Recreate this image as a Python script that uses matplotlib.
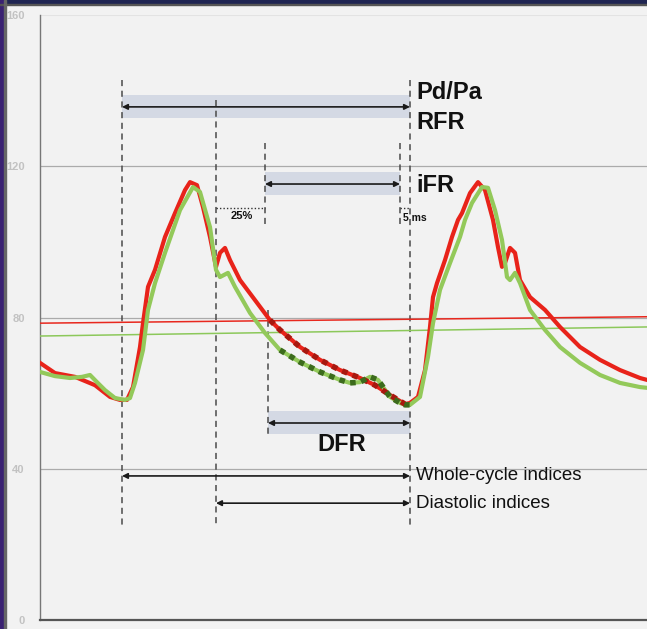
import numpy as np
import matplotlib
matplotlib.use("Agg")
from matplotlib import pyplot as plt
from matplotlib.patches import Rectangle

plt.rcParams['font.family'] = ['Liberation Sans', 'DejaVu Sans']

# Pressure traces (x = sample index, y = mmHg)
t_pa = [0, 15, 35, 55, 70, 80, 87, 93, 100, 103, 108, 115, 125, 135, 145, 150, 157, 163,
        170, 176, 180, 185, 190, 200, 215, 230, 240, 260, 280, 300, 320, 335, 350, 365,
        370, 378, 385, 390, 393, 397, 405, 412, 418, 422, 430, 438, 445, 453, 458, 462,
        465, 470, 475, 480, 490, 505, 520, 540, 560, 580, 600, 607]
pa = [68.0, 65.3, 64.3, 62.1, 59.0, 58.2, 58.2, 61.6, 72.2, 78.5, 88.1, 92.6, 101.3, 107.6,
      113.7, 115.8, 115.0, 109.2, 101.3, 93.4, 97.1, 98.4, 95.2, 89.9, 84.6, 79.3, 76.7,
      72.2, 68.8, 66.1, 64.0, 62.1, 59.5, 57.1, 57.4, 59.0, 66.1, 77.5, 85.4, 89.1, 95.2,
      101.3, 105.8, 107.6, 112.9, 115.8, 113.7, 105.8, 98.6, 93.4, 94.4, 98.4, 97.1, 89.9,
      85.4, 82.0, 77.5, 72.2, 68.8, 66.1, 64.0, 63.5]

t_pd = [0, 15, 30, 42, 50, 57, 65, 75, 85, 90, 95, 103, 108, 115, 125, 140, 153, 160, 170,
        176, 180, 188, 195, 210, 225, 240, 260, 280, 300, 310, 320, 330, 338, 350, 360, 365,
        370, 380, 388, 393, 400, 410, 420, 425, 432, 442, 448, 455, 462, 467, 470, 475, 480,
        490, 505, 520, 540, 560, 580, 600, 607]
pd_ = [65.6, 64.5, 64.0, 64.3, 64.8, 62.9, 60.8, 58.7, 58.2, 58.7, 62.7, 71.4, 82.0, 89.1,
       97.1, 108.4, 114.5, 113.2, 103.9, 92.6, 90.7, 91.8, 88.1, 81.2, 75.9, 71.4, 68.2, 65.6,
       63.5, 62.7, 62.9, 64.3, 63.5, 59.0, 57.4, 56.9, 56.9, 59.0, 69.6, 78.5, 87.3, 94.4,
       101.3, 105.8, 110.3, 114.5, 114.3, 108.4, 100.5, 90.7, 89.9, 91.8, 89.1, 82.0, 76.7,
       72.2, 68.0, 64.8, 62.7, 61.6, 61.4]

# mean pressure lines
mean_pa = [78.5, 80.2]
mean_pd = [75.1, 77.5]

# timing markers
t_cycle_start = 82
t_dicrotic = 176
t_ifr_start = 225
t_ifr_end = 360
t_dfr_start = 228
t_cycle_end = 370

fig = plt.figure(figsize=(6.47, 6.29), dpi=100, facecolor='#f2f2f2')
ax = fig.add_axes([40 / 647, 9 / 629, 607 / 647, 605 / 629])
ax.set_facecolor('#f2f2f2')
ax.set_xlim(0, 607)
ax.set_ylim(0, 160)

for g in [40, 80, 120]:
    ax.axhline(g, color='#ababab', lw=0.9, zorder=1)
ax.axhline(160, color='#e3e3e3', lw=0.8, zorder=1)

# shaded index bands
band_c = '#d4d9e4'
ax.add_patch(Rectangle((t_cycle_start, 132.8), t_cycle_end - t_cycle_start, 6.0, color=band_c, lw=0, zorder=1))
ax.add_patch(Rectangle((t_ifr_start, 112.4), t_ifr_end - t_ifr_start, 6.1, color=band_c, lw=0, zorder=1))
ax.add_patch(Rectangle((t_dfr_start, 49.2), t_cycle_end - t_dfr_start, 6.1, color=band_c, lw=0, zorder=1))

# vertical dashed markers
vd = dict(color='#4a4a4a', lw=1.1, linestyle=(0, (4, 3)), zorder=2)
ax.plot([t_cycle_start] * 2, [142.8, 24.6], **vd)
ax.plot([t_dicrotic] * 2, [137.5, 24.6], **vd)
ax.plot([t_ifr_start] * 2, [126.2, 104.2], **vd)
ax.plot([t_ifr_end] * 2, [126.2, 103.7], **vd)
ax.plot([t_dfr_start] * 2, [82.0, 48.9], **vd)
ax.plot([t_cycle_end] * 2, [142.8, 24.6], **vd)

# dotted brackets
ax.plot([t_dicrotic, t_ifr_start], [109.0, 109.0], color='#333', lw=1, linestyle=(0, (1, 1.5)))
ax.plot([t_ifr_end, t_cycle_end], [109.0, 109.0], color='#333', lw=1, linestyle=(0, (1, 1.5)))

# mean lines
ax.plot([0, 607], mean_pa, color='#e8281e', lw=1.1, zorder=3)
ax.plot([0, 607], mean_pd, color='#8cc85a', lw=1.1, zorder=3)

# traces
ax.plot(t_pa, pa, color='#e8231a', lw=3, solid_joinstyle='round', zorder=4)
ax.plot(t_pd, pd_, color='#93c95a', lw=3, solid_joinstyle='round', zorder=5)

# dotted diastolic overlay
t_pa_a = np.array(t_pa)
t_pd_a = np.array(t_pd)
m1 = (t_pa_a >= t_dfr_start) & (t_pa_a <= t_cycle_end)
m2 = (t_pd_a >= t_dfr_start) & (t_pd_a <= t_cycle_end)
ax.plot(t_pa_a[m1], np.array(pa)[m1], color='#a8180f', lw=4, linestyle=(0, (1, 1)), zorder=6)
ax.plot(t_pd_a[m2], np.array(pd_)[m2], color='#3c6b1c', lw=4, linestyle=(0, (1, 1)), zorder=6)

# arrows
ap = dict(arrowstyle='<|-|>', color='#1a1a1a', lw=1.2, mutation_scale=8, shrinkA=0, shrinkB=0)
ax.annotate('', xy=(t_cycle_end, 135.7), xytext=(t_cycle_start, 135.7), arrowprops=ap, zorder=7)
ax.annotate('', xy=(t_ifr_end, 115.3), xytext=(t_ifr_start, 115.3), arrowprops=ap, zorder=7)
ax.annotate('', xy=(t_cycle_end, 52.1), xytext=(t_dfr_start, 52.1), arrowprops=ap, zorder=7)
ax.annotate('', xy=(t_cycle_end, 38.1), xytext=(t_cycle_start, 38.1), arrowprops=ap, zorder=7)
ax.annotate('', xy=(t_cycle_end, 30.9), xytext=(t_dicrotic, 30.9), arrowprops=ap, zorder=7)

# labels
bold = dict(fontsize=17, fontweight='bold', color='#111', va='center')
ax.text(t_cycle_end + 6, 139.4, 'Pd/Pa', **bold)
ax.text(t_cycle_end + 6, 131.7, 'RFR', **bold)
ax.text(t_cycle_end + 6, 115.0, 'iFR', **bold)
ax.text(302, 46.3, 'DFR', ha='center', **bold)
ax.text(t_cycle_end + 6, 38.1, 'Whole-cycle indices', fontsize=13.5, color='#111', va='center')
ax.text(t_cycle_end + 6, 30.9, 'Diastolic indices', fontsize=13.5, color='#111', va='center')
ax.text(202, 106.9, '25%', fontsize=8, fontweight='bold', color='#111', ha='center', va='center')
ax.text(t_ifr_end + 3, 106.3, '5 ms', fontsize=7.5, fontweight='bold', color='#111', va='center')

ax.set_yticks([0, 40, 80, 120, 160])
ax.set_yticklabels(['0', '40', '80', '120', '160'], color='#c2c2c2', fontsize=8, fontweight='bold')
ax.tick_params(axis='y', length=0, pad=11)
ax.set_xticks([])
for s in ['top', 'right']:
    ax.spines[s].set_visible(False)
ax.spines['left'].set_color('#777')
ax.spines['left'].set_linewidth(1)
ax.spines['bottom'].set_color('#555')
ax.spines['bottom'].set_linewidth(1.6)

# slide frame
fig.patches.append(Rectangle((0, 1 - 4 / 629), 1, 4 / 629, transform=fig.transFigure, color='#1f2552', zorder=10))
fig.patches.append(Rectangle((0, 0), 4 / 647, 1, transform=fig.transFigure, color='#3a2172', zorder=10))
fig.patches.append(Rectangle((0, 1 - 5 / 629), 1, 1 / 629, transform=fig.transFigure, color='#555', zorder=10))
fig.patches.append(Rectangle((4 / 647, 0), 1.5 / 647, 1, transform=fig.transFigure, color='#666', zorder=10))

plt.savefig('out.png', dpi=100, facecolor=fig.get_facecolor())
